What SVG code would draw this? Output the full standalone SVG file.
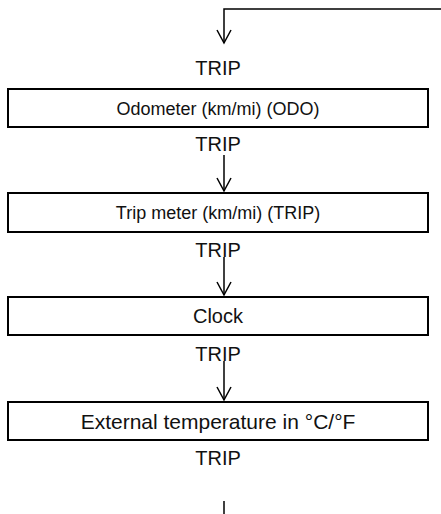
<svg xmlns="http://www.w3.org/2000/svg" width="441" height="514" viewBox="0 0 441 514">
<style>
.box{fill:#fff;stroke:#000;stroke-width:2}
.lbl{font-family:"Liberation Sans",Arial,sans-serif;fill:#111;text-anchor:middle}
.t{font-size:20px}
.s{font-size:18px}
.e{font-size:21px}
.c{fill:none;stroke:#000;stroke-width:1.5}
</style>
<rect width="441" height="514" fill="#fff"/>
<g id="connectors">
<path class="c" d="M441,9 H224 V43"/>
<path class="c" d="M217,30 L224,43 L231,30"/>
<path class="c" d="M224,155 V191"/>
<path class="c" d="M217,178 L224,191 L231,178"/>
<path class="c" d="M224,257 V295"/>
<path class="c" d="M217,282 L224,295 L231,282"/>
<path class="c" d="M224,361 V400"/>
<path class="c" d="M217,387 L224,400 L231,387"/>
<path class="c" d="M224,501 V514"/>
</g>
<g id="label-trip-1"><text class="lbl t" x="218" y="75">TRIP</text></g>
<g id="node-odo">
<rect class="box" x="8" y="89" width="420" height="38"/>
<text class="lbl s" x="218" y="114.5">Odometer (km/mi) (ODO)</text>
</g>
<g id="label-trip-2"><text class="lbl t" x="218" y="151">TRIP</text></g>
<g id="node-trip">
<rect class="box" x="8" y="193" width="420" height="39"/>
<text class="lbl s" x="218" y="219">Trip meter (km/mi) (TRIP)</text>
</g>
<g id="label-trip-3"><text class="lbl t" x="218" y="257">TRIP</text></g>
<g id="node-clock">
<rect class="box" x="8" y="297" width="420" height="38"/>
<text class="lbl t" x="218" y="323">Clock</text>
</g>
<g id="label-trip-4"><text class="lbl t" x="218" y="361">TRIP</text></g>
<g id="node-temp">
<rect class="box" x="8" y="402" width="420" height="38"/>
<text class="lbl e" x="218" y="428.5">External temperature in °C/°F</text>
</g>
<g id="label-trip-5"><text class="lbl t" x="218" y="465">TRIP</text></g>
</svg>
